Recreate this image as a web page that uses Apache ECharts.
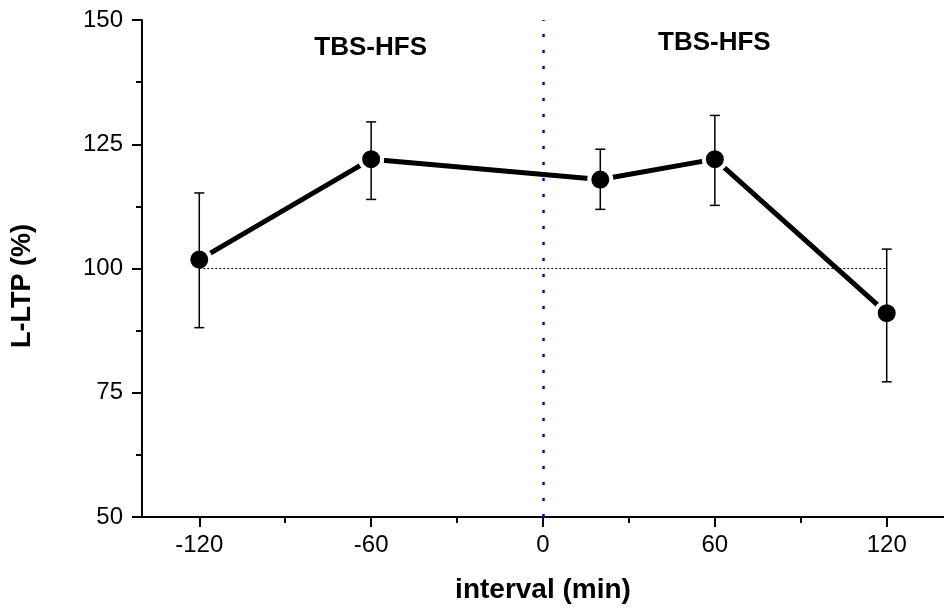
<!DOCTYPE html>
<html>
<head>
<meta charset="utf-8">
<script src="https://cdn.jsdelivr.net/npm/echarts@6/dist/echarts.min.js"></script>
<style>
  html, body { margin: 0; padding: 0; background: #fff; }
  #main { width: 944px; height: 612px; }
</style>
</head>
<body>
<div id="main"></div>
<script>
// data
var xValues = [-120, -60, 20, 60, 120];
var meanValues = [101.8, 122.0, 117.9, 122.0, 91.0];
var upperValues = [115.2, 129.5, 124.0, 130.8, 103.9];
var lowerValues = [88.1, 113.9, 111.9, 112.7, 77.2];
var xTickValues = [-120, -60, 0, 60, 120];
var xMinorTickValues = [-90, -30, 30, 90];
var annotationX = [-60, 60];
var annotationY = [144.2, 145.4];
var annotationText = ['TBS-HFS', 'TBS-HFS'];
var baseline = 100;
var stimulusX = 0;

var font = 'Arial, "Liberation Sans", sans-serif';

var chart = echarts.init(document.getElementById('main'));

var lineData = xValues.map(function (x, i) { return [x, meanValues[i]]; });
var errData = xValues.map(function (x, i) { return [x, lowerValues[i], upperValues[i]]; });
var noteData = annotationX.map(function (x, i) { return [x, annotationY[i], annotationText[i]]; });

var option = {
    animation: false,
    backgroundColor: '#fff',
    grid: { left: 142, right: -9, top: 20, bottom: 95, containLabel: false },
    xAxis: [
        {
            type: 'value',
            min: -140,
            max: 140,
            position: 'bottom',
            name: 'interval (min)',
            nameLocation: 'middle',
            nameGap: 73,
            nameTextStyle: { fontFamily: font, fontSize: 28, fontWeight: 'bold', color: '#000', verticalAlign: 'middle' },
            axisLine: { onZero: false, lineStyle: { color: '#000', width: 2 } },
            axisTick: { customValues: xTickValues, length: 10, lineStyle: { color: '#000', width: 2 } },
            axisLabel: { customValues: xTickValues, fontFamily: font, fontSize: 24, color: '#000', margin: 16 },
            splitLine: { show: false }
        },
        {
            type: 'value',
            min: -140,
            max: 140,
            position: 'bottom',
            axisLine: { show: false, onZero: false },
            axisTick: { customValues: xMinorTickValues, length: 6, lineStyle: { color: '#000', width: 2 } },
            axisLabel: { show: false },
            splitLine: { show: false }
        }
    ],
    yAxis: {
        type: 'value',
        min: 50,
        max: 150,
        interval: 25,
        axisLine: { show: true, onZero: false, lineStyle: { color: '#000', width: 2 } },
        axisTick: { show: true, length: 10, lineStyle: { color: '#000', width: 2 } },
        minorTick: { show: true, splitNumber: 2, length: 6, lineStyle: { color: '#000', width: 2 } },
        axisLabel: { fontFamily: font, fontSize: 24, color: '#000', margin: 19 },
        splitLine: { show: false },
        minorSplitLine: { show: false }
    },
    graphic: [
        {
            type: 'text',
            x: 23,
            y: 286,
            rotation: Math.PI / 2,
            style: {
                text: 'L-LTP (%)',
                font: 'bold 27px ' + font,
                fill: '#000',
                align: 'center',
                verticalAlign: 'middle'
            }
        }
    ],
    series: [
        {
            type: 'line',
            data: lineData,
            z: 2,
            symbol: 'circle',
            symbolSize: 22,
            itemStyle: { color: '#000', borderColor: '#fff', borderWidth: 4 },
            lineStyle: { color: '#000', width: 5 },
            markLine: {
                silent: true,
                symbol: 'none',
                label: { show: false },
                data: [
                    {
                        xAxis: stimulusX,
                        lineStyle: { color: '#0000ff', width: 2.5, type: [3, 13] }
                    },
                    [
                        { coord: [xValues[0], baseline], lineStyle: { color: '#000', width: 1, type: [2, 2] } },
                        { coord: [xValues[xValues.length - 1], baseline] }
                    ]
                ]
            }
        },
        {
            type: 'custom',
            z: 3,
            data: errData,
            encode: { x: 0, y: [1, 2] },
            renderItem: function (params, api) {
                var x = api.value(0);
                var lo = api.coord([x, api.value(1)]);
                var hi = api.coord([x, api.value(2)]);
                var hw = 5;
                var st = { stroke: '#000', lineWidth: 1.5 };
                return {
                    type: 'group',
                    children: [
                        { type: 'line', shape: { x1: hi[0], y1: hi[1], x2: lo[0], y2: lo[1] }, style: st },
                        { type: 'line', shape: { x1: hi[0] - hw, y1: hi[1], x2: hi[0] + hw, y2: hi[1] }, style: st },
                        { type: 'line', shape: { x1: lo[0] - hw, y1: lo[1], x2: lo[0] + hw, y2: lo[1] }, style: st }
                    ]
                };
            }
        },
        {
            type: 'scatter',
            data: noteData,
            symbolSize: 1,
            itemStyle: { color: 'rgba(0,0,0,0)', opacity: 1 },
            label: {
                show: true,
                position: [0, 0],
                align: 'center',
                verticalAlign: 'middle',
                formatter: function (p) { return p.data[2]; },
                fontFamily: font,
                fontSize: 26,
                fontWeight: 'bold',
                color: '#000',
                opacity: 1,
                textBorderWidth: 0
            }
        }
    ]
};

chart.setOption(option);
</script>
</body>
</html>
